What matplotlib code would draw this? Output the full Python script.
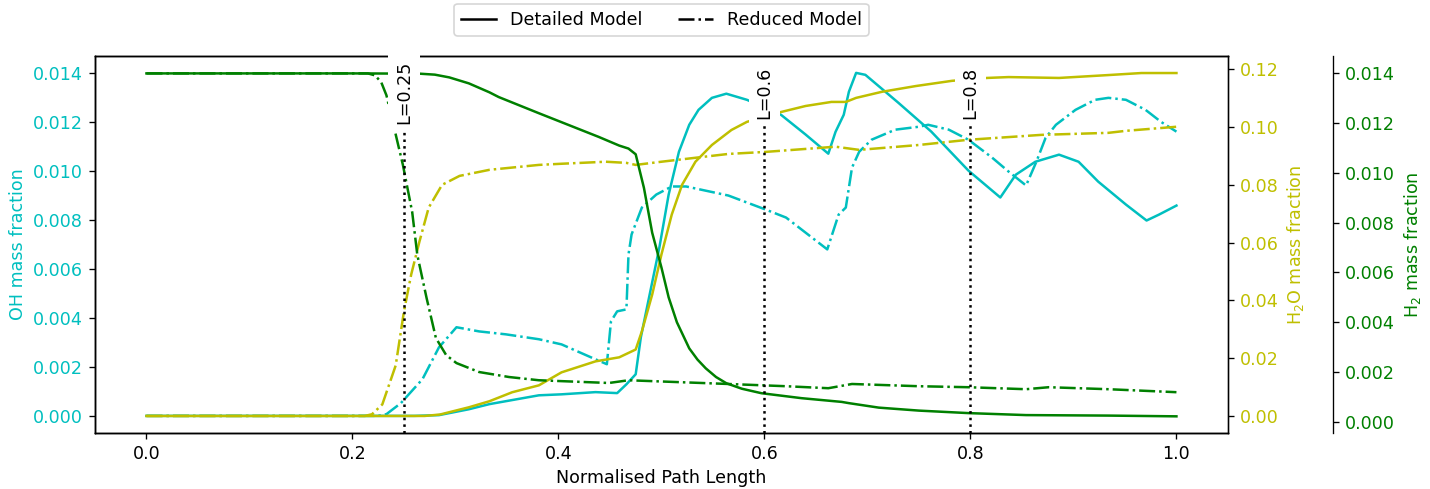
import matplotlib
matplotlib.use("Agg")
import matplotlib.pyplot as plt
from matplotlib.lines import Line2D

# OH mass fraction (x1e-3) along the path
oh_det_x = [0.0, 0.26, 0.284, 0.313, 0.333, 0.381, 0.403, 0.436, 0.457, 0.466, 0.475, 0.48, 0.49,
            0.498, 0.507, 0.517, 0.527, 0.536, 0.549, 0.563, 0.583, 0.616, 0.64, 0.662, 0.669,
            0.677, 0.682, 0.689, 0.698, 0.73, 0.762, 0.798, 0.829, 0.844, 0.863, 0.886, 0.905,
            0.924, 0.951, 0.971, 0.983, 1.0]
oh_det_y = [0.0, 0.0, 0.03, 0.27, 0.48, 0.84, 0.88, 0.97, 0.93, 1.29, 1.70, 3.21, 5.25,
            6.88, 9.04, 10.79, 11.89, 12.5, 12.99, 13.16, 12.91, 12.3, 11.49, 10.71, 11.6,
            12.3, 13.24, 14.01, 13.93, 12.79, 11.61, 10.02, 8.92, 9.85, 10.38, 10.67, 10.38,
            9.57, 8.63, 7.98, 8.22, 8.59]

oh_red_x = [0.0, 0.225, 0.233, 0.247, 0.268, 0.284, 0.301, 0.323, 0.349, 0.381, 0.403, 0.436,
            0.447, 0.451, 0.457, 0.466, 0.468, 0.471, 0.481, 0.495, 0.51, 0.524, 0.565, 0.601,
            0.621, 0.661, 0.672, 0.679, 0.685, 0.692, 0.704, 0.727, 0.75, 0.759, 0.779, 0.798,
            0.821, 0.837, 0.854, 0.864, 0.873, 0.883, 0.902, 0.921, 0.934, 0.951, 0.97, 0.985, 1.0]
oh_red_y = [0.0, 0.0, 0.07, 0.52, 1.5, 2.8, 3.62, 3.45, 3.33, 3.13, 2.92, 2.31,
            2.11, 3.86, 4.27, 4.35, 6.59, 7.41, 8.51, 9.04, 9.37, 9.37, 9.0, 8.43,
            8.1, 6.8, 8.22, 8.51, 10.14, 10.79, 11.28, 11.69, 11.81, 11.89, 11.69, 11.28,
            10.55, 9.98, 9.41, 10.38, 11.36, 11.89, 12.5, 12.91, 12.99, 12.91, 12.5, 12.01, 11.61]

# H2O mass fraction (x1e-2)
h2o_det_x = [0.0, 0.27, 0.285, 0.313, 0.333, 0.355, 0.381, 0.403, 0.436, 0.459, 0.475, 0.481,
             0.491, 0.5, 0.51, 0.52, 0.533, 0.549, 0.568, 0.583, 0.616, 0.64, 0.665, 0.679,
             0.689, 0.714, 0.747, 0.782, 0.816, 0.837, 0.886, 0.934, 0.966, 1.0]
h2o_det_y = [0.0, 0.0, 0.05, 0.3, 0.51, 0.82, 1.06, 1.51, 1.89, 2.03, 2.3, 2.93,
             4.2, 5.59, 6.97, 8.0, 8.8, 9.38, 9.9, 10.18, 10.52, 10.73, 10.87, 10.87,
             11.01, 11.22, 11.42, 11.6, 11.7, 11.73, 11.7, 11.8, 11.87, 11.87]

h2o_red_x = [0.0, 0.212, 0.219, 0.229, 0.242, 0.25, 0.257, 0.265, 0.274, 0.287, 0.304, 0.333,
             0.381, 0.403, 0.446, 0.466, 0.475, 0.5, 0.565, 0.601, 0.669, 0.692, 0.75, 0.798,
             0.869, 0.934, 0.951, 1.0]
h2o_red_y = [0.0, 0.0, 0.06, 0.4, 1.75, 3.62, 4.89, 6.03, 7.21, 8.0, 8.31, 8.52,
             8.69, 8.73, 8.8, 8.76, 8.69, 8.8, 9.07, 9.14, 9.32, 9.21, 9.38, 9.56,
             9.73, 9.8, 9.87, 10.01]

# H2 mass fraction (x1e-3)
h2_det_x = [0.0, 0.2, 0.265, 0.28, 0.294, 0.313, 0.333, 0.342, 0.381, 0.439, 0.459,
            0.468, 0.475, 0.483, 0.491, 0.5, 0.507, 0.515, 0.527, 0.535, 0.543, 0.553, 0.563,
            0.578, 0.597, 0.636, 0.675, 0.682, 0.711, 0.75, 0.798, 0.854, 0.934, 1.0]
h2_det_y = [14.0, 14.0, 13.99, 13.95, 13.84, 13.6, 13.24, 13.05, 12.4, 11.45, 11.1,
            10.98, 10.75, 9.4, 7.6, 6.2, 5.0, 4.0, 2.95, 2.5, 2.15, 1.8, 1.55,
            1.33, 1.15, 0.95, 0.8, 0.75, 0.57, 0.45, 0.35, 0.27, 0.25, 0.22]

h2_red_x = [0.0, 0.215, 0.222, 0.228, 0.233, 0.241, 0.249, 0.258, 0.263, 0.272, 0.281, 0.291,
            0.301, 0.323, 0.352, 0.381, 0.449, 0.468, 0.565, 0.621, 0.662, 0.685, 0.75, 0.798,
            0.854, 0.876, 0.934, 1.0]
h2_red_y = [14.0, 14.0, 13.92, 13.64, 13.12, 11.72, 10.32, 8.43, 6.7, 4.97, 3.37, 2.68,
            2.36, 2.0, 1.8, 1.67, 1.56, 1.67, 1.52, 1.43, 1.35, 1.52, 1.43, 1.39,
            1.31, 1.39, 1.31, 1.19]

# marked locations along the path
marks = [0.25, 0.6, 0.8]


def main():
    plt.rcParams['font.size'] = 10.5
    fig = plt.figure(figsize=(1430 / 120, 489 / 120), dpi=120)
    ax = fig.add_subplot(1, 1, 1)
    fig.subplots_adjust(left=0.0664, right=0.8587, bottom=0.1145, top=0.8855)
    ax2 = ax.twinx()
    ax3 = ax.twinx()
    ax3.spines['right'].set_position(('axes', 1.093))

    # OH on the left axis
    ax.plot(oh_det_x, [v * 1e-3 for v in oh_det_y], color='c', linestyle='-')
    ax.plot(oh_red_x, [v * 1e-3 for v in oh_red_y], color='c', linestyle='-.')
    ax.set_ylim(-0.0007, 0.0147)
    ax.set_ylabel("OH mass fraction", color='c')
    ax.tick_params(axis='y', labelcolor='c')
    ax.set_xlabel("Normalised Path Length")

    # H2O on the first right axis
    ax2.plot(h2o_det_x, [v * 1e-2 for v in h2o_det_y], color='y', linestyle='-')
    ax2.plot(h2o_red_x, [v * 1e-2 for v in h2o_red_y], color='y', linestyle='-.')
    ax2.set_ylim(-0.0059, 0.1246)
    ax2.set_ylabel("H$_2$O mass fraction", color='y')
    ax2.tick_params(axis='y', labelcolor='y')

    # H2 on the outer right axis
    ax3.plot(h2_det_x, [v * 1e-3 for v in h2_det_y], color='g', linestyle='-')
    ax3.plot(h2_red_x, [v * 1e-3 for v in h2_red_y], color='g', linestyle='-.')
    ax3.set_ylim(-0.00045, 0.0147)
    ax3.set_ylabel("H$_2$ mass fraction", color='g')
    ax3.tick_params(axis='y', labelcolor='g')

    #vertical markers with labels
    for m in marks:
        ax3.axvline(m, color='k', linestyle=':')
        ax3.text(m, 0.903, "L=%g" % m, rotation=90, ha='center', va='center',
                 transform=ax3.get_xaxis_transform(),
                 bbox=dict(facecolor='white', edgecolor='none'))

    handles = [Line2D([], [], color='k', linestyle='-'),
               Line2D([], [], color='k', linestyle='-.')]
    ax3.legend(handles, ["Detailed Model", "Reduced Model"], loc='lower center',
               bbox_to_anchor=(0.5, 1.03), ncol=2)

    fig.savefig("out.png", dpi=120)


if __name__ == '__main__':
    main()
